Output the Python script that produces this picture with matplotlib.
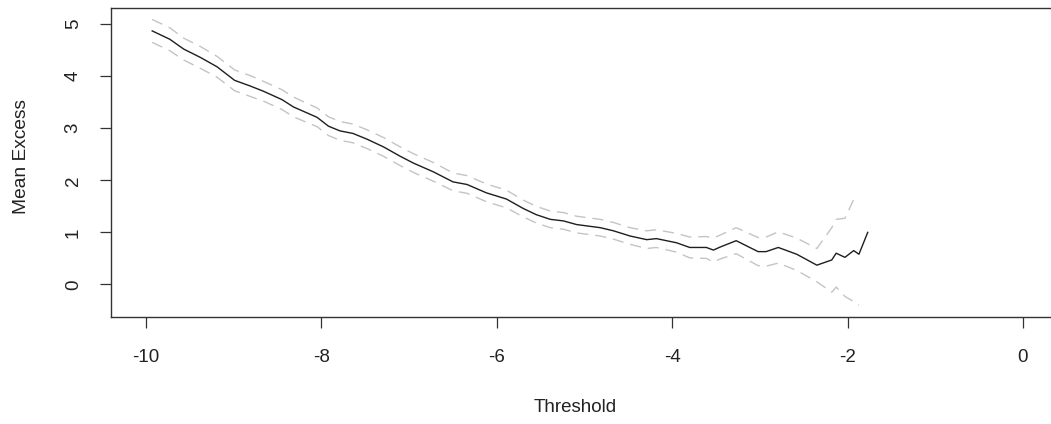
import numpy as np
import matplotlib
matplotlib.use("Agg")
import matplotlib.pyplot as plt

# mean excess curve
threshold = [-9.93, -9.73, -9.57, -9.38, -9.19, -8.99, -8.81, -8.66, -8.45, -8.32,
             -8.05, -7.92, -7.79, -7.64, -7.48, -7.29, -7.10, -6.95, -6.72, -6.50,
             -6.34, -6.12, -5.89, -5.70, -5.55, -5.39, -5.24, -5.09, -4.82, -4.67,
             -4.48, -4.29, -4.18, -3.95, -3.80, -3.61, -3.53, -3.45, -3.27, -3.02,
             -2.93, -2.79, -2.58, -2.35, -2.18, -2.13, -2.03, -1.93, -1.87, -1.77]
mean_excess = [4.87, 4.71, 4.52, 4.36, 4.18, 3.92, 3.81, 3.71, 3.55, 3.41,
               3.21, 3.04, 2.95, 2.90, 2.79, 2.64, 2.46, 2.33, 2.16, 1.97,
               1.92, 1.76, 1.64, 1.46, 1.34, 1.25, 1.22, 1.15, 1.09, 1.03,
               0.93, 0.86, 0.88, 0.80, 0.71, 0.71, 0.66, 0.72, 0.84, 0.63,
               0.63, 0.71, 0.58, 0.37, 0.47, 0.60, 0.52, 0.65, 0.58, 1.00]
# half width of the confidence band (none for the last point)
half_width = [0.22, 0.22, 0.21, 0.21, 0.20, 0.20, 0.20, 0.19, 0.19, 0.19,
              0.18, 0.18, 0.18, 0.18, 0.18, 0.18, 0.18, 0.18, 0.18, 0.17,
              0.17, 0.17, 0.17, 0.16, 0.16, 0.16, 0.16, 0.16, 0.16, 0.16,
              0.16, 0.17, 0.17, 0.18, 0.20, 0.21, 0.23, 0.23, 0.25, 0.27,
              0.28, 0.30, 0.31, 0.32, 0.62, 0.65, 0.75, 0.98, 0.98, np.nan]
x_ticks = [-10, -8, -6, -4, -2, 0]
y_ticks = [0, 1, 2, 3, 4, 5]

x = np.array(threshold)
me = np.array(mean_excess)
hw = np.array(half_width)

fig = plt.figure(figsize=(10.51, 4.24), dpi=100)
ax = fig.add_axes([111 / 1051, 1 - 316.7 / 424, 947 / 1051, 308.7 / 424])

ax.plot(x, me + hw, color="#c4c4c4", lw=1.0, linestyle=(0, (8, 5)))
ax.plot(x, me - hw, color="#c4c4c4", lw=1.0, linestyle=(0, (8, 5)))
ax.plot(x, me, color="#1e1e1e", lw=1.0)

ax.set_xlim(-10.4, 0.4)
ax.set_ylim(-0.62, 5.31)
ax.set_xticks(x_ticks)
ax.set_yticks(y_ticks)
ax.set_xticklabels([str(v) for v in x_ticks], family="Liberation Sans", fontsize=13.5)
ax.set_yticklabels([str(v) for v in y_ticks], family="Liberation Sans",
                   fontsize=13.5, rotation=90, va="center")

for s in ax.spines.values():
    s.set_color("#333333")
    s.set_linewidth(1.0)
ax.tick_params(axis="both", length=8, width=0.9, color="#333333", labelcolor="#222222")
ax.tick_params(axis="x", pad=15)
ax.tick_params(axis="y", pad=13)

ax.set_xlabel("Threshold", family="Liberation Sans", fontsize=13.5, color="#222222")
ax.set_ylabel("Mean Excess", family="Liberation Sans", fontsize=13.8, color="#222222")
ax.xaxis.set_label_coords((575 - 111) / 947, -(408 - 316.7) / 308.7)
ax.yaxis.set_label_coords(-(111 - 22) / 947, (316.7 - 156) / 308.7)
ax.xaxis.label.set_va("center")
ax.yaxis.label.set_va("center")

fig.savefig("out.png", dpi=100)
